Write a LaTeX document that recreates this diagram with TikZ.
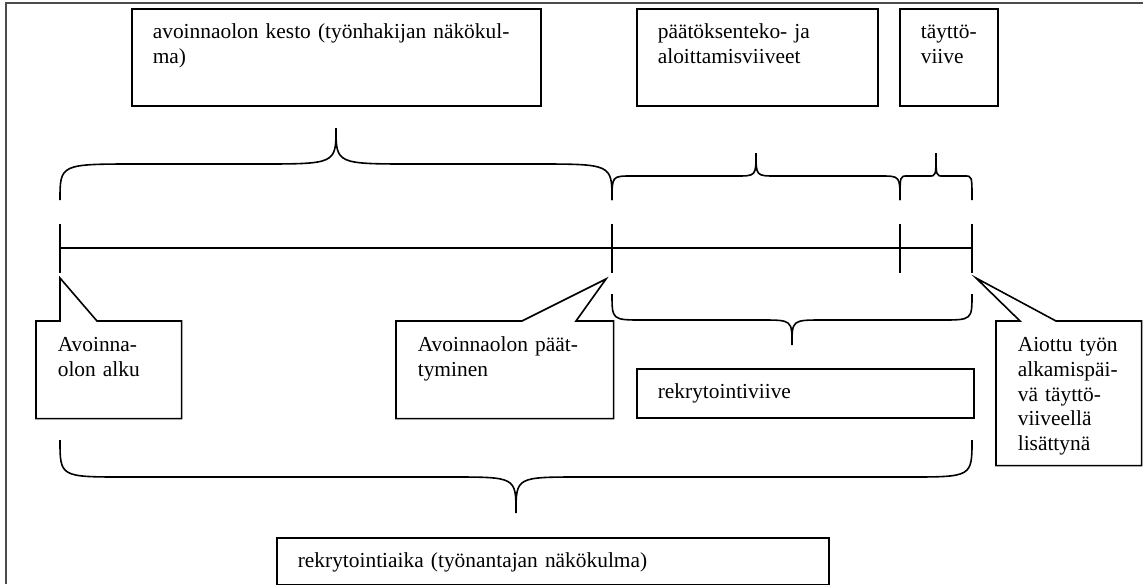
\documentclass[tikz,border=0pt]{standalone}
\usepackage{fontspec}
\setmainfont{Liberation Serif}

\tikzset{
  box/.style={draw, line width=0.8pt, anchor=north west, align=left,
    inner xsep=10.5pt, inner ysep=0pt, text height=15pt,
    font=\fontsize{10.7}{12.3}\selectfont},
  callout/.style={box, draw=none},
  line/.style={line width=0.8pt}
}

\begin{document}
\begin{tikzpicture}[x=0.5pt,y=-0.5pt]
  \useasboundingbox (0,0) rectangle (1143,584);
  \draw[line width=0.8pt, black!70] (1143,3) -- (6,3) -- (6,584);

  % upper boxes
  \node[box, text width=183.5pt, text depth=33.5pt] (kesto) at (131,8)
    {avoinnaolon kesto (työnhakijan näkökul-\\ma)};
  \node[box, text width=99.5pt, text depth=33.5pt] (viiveet) at (636,8)
    {päätöksenteko- ja\\aloittamisviiveet};
  \node[box, text width=28pt, text depth=33.5pt] (tviive) at (899,8)
    {täyttö-\\viive};

  % time line
  \coordinate (t0) at (60,248);
  \coordinate (t1) at (612,248);
  \coordinate (t2) at (900,248);
  \coordinate (t3) at (972,248);
  \draw[line] (t0) -- (t3);
  \foreach \t in {t0,t1,t2,t3}
    \draw[line] ([yshift=12pt]\t) -- ([yshift=-12.5pt]\t);

  % braces
  \foreach \xa/\xb/\xm/\ye/\yf/\yt/\cw in
  {
    60/612/336/200/164/128/78,
    612/900/756/200/176/153/20,
    900/972/936/200/176/153/7,
    612/972/792/294/320/345/31,
    60/972/516/440/477/513/65%
  }
  {
    \draw[line] (\xa,\ye) .. controls (\xa,\yf) .. (\xa+\cw,\yf) -- (\xm-\cw,\yf)
      .. controls (\xm,\yf) .. (\xm,\yt) .. controls (\xm,\yf) .. (\xm+\cw,\yf)
      -- (\xb-\cw,\yf) .. controls (\xb,\yf) .. (\xb,\ye);
  }

  % callouts
  \node[callout, text width=51pt, text depth=33pt] (alku) at (36,321)
    {Avoinna-\\olon alku};
  \node[callout, text width=87pt, text depth=33pt] (loppu) at (396,321)
    {Avoinnaolon päät-\\tyminen};
  \node[callout, text width=51pt, text depth=56.5pt] (aiottu) at (996,321)
    {Aiottu työn\\alkamispäi-\\vä täyttö-\\viiveellä\\lisättynä};

  \coordinate (p1) at (60,278);
  \coordinate (p1a) at (60,321);
  \coordinate (p1b) at (97,321);
  \coordinate (p2) at (606,279);
  \coordinate (p2a) at (522,321);
  \coordinate (p2b) at (576,321);
  \coordinate (p3) at (976,278);
  \coordinate (p3a) at (1020,321);
  \coordinate (p3b) at (1056,321);
  \draw[line] (alku.north west) -- (p1a) -- (p1) -- (p1b) -- (alku.north east)
    |- (alku.south west) -- cycle;
  \draw[line] (loppu.north west) -- (p2a) -- (p2) -- (p2b) -- (loppu.north east)
    |- (loppu.south west) -- cycle;
  \draw[line] (aiottu.north west) -- (p3a) -- (p3) -- (p3b) -- (aiottu.north east)
    |- (aiottu.south west) -- cycle;

  % lower boxes
  \node[box, text width=147.5pt, text depth=9.5pt] (rviive) at (636,368)
    {rekrytointiviive};
  \node[box, text width=255pt, text depth=8.5pt] (raika) at (276,537)
    {rekrytointiaika (työnantajan näkökulma)};
\end{tikzpicture}
\end{document}
